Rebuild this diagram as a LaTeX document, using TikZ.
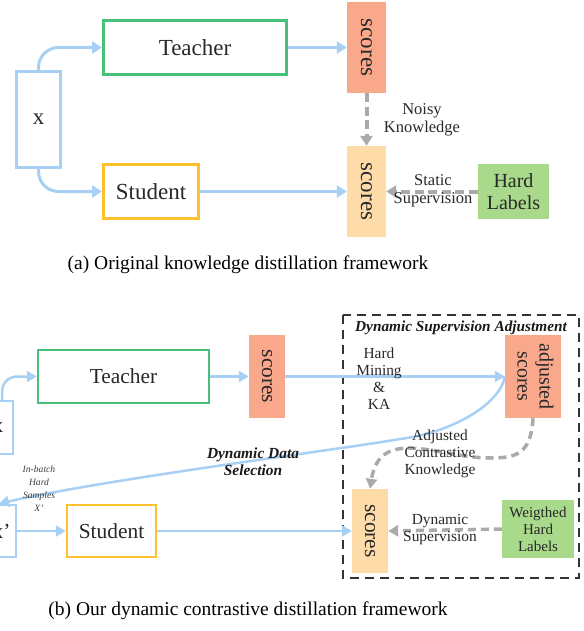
\documentclass[tikz,border=0pt]{standalone}
\usepackage{fontspec}
\setmainfont{Liberation Serif}
\usetikzlibrary{arrows.meta}

\definecolor{lineblue}{RGB}{168,207,244}
\definecolor{teachgreen}{RGB}{72,192,122}
\definecolor{studorange}{RGB}{255,192,46}
\definecolor{salmon}{RGB}{250,168,140}
\definecolor{peach}{RGB}{253,220,170}
\definecolor{labgreen}{RGB}{169,218,140}
\definecolor{dashgray}{RGB}{170,170,170}
\definecolor{txtgray}{RGB}{40,40,40}

\begin{document}
\begin{tikzpicture}[x=1pt,y=1pt]
      \tikzstyle{every node}+=[inner sep=0pt, text=txtgray]
      \tikzstyle{inbox}=[draw=lineblue, line width=3pt]
      \tikzstyle{teacher}=[draw=teachgreen, line width=3pt]
      \tikzstyle{student}=[draw=studorange, line width=3pt]
      \tikzstyle{flow}=[draw=lineblue, line width=3pt, -{Triangle[length=10pt,width=12pt]}]
      \tikzstyle{supflow}=[draw=dashgray, line width=4pt, dash pattern=on 9pt off 4.5pt, -{Triangle[length=10pt,width=12pt]}]
      \tikzstyle{bigtxt}=[font=\fontsize{23}{26}\selectfont]
      \tikzstyle{midtxt}=[font=\fontsize{16.5}{18}\selectfont, align=center]
      \tikzstyle{captxt}=[font=\fontsize{19.5}{22}\selectfont, text=black]
      \useasboundingbox (0,0) rectangle (583,-631);

      % (a) original framework
      \node[inbox, bigtxt, minimum width=44, minimum height=96] (xA) at (38.5,-119.5) {x};
      \node[teacher, bigtxt, minimum width=183, minimum height=54] (teachA) at (195,-47.5) {Teacher};
      \node[student, bigtxt, minimum width=95, minimum height=54] (studA) at (151,-191.5) {Student};
      \node[fill=salmon, bigtxt, minimum width=39, minimum height=91] (tscoreA) at (366.5,-47.5) {\rotatebox{-90}{scores}};
      \node[fill=peach, bigtxt, minimum width=39, minimum height=91] (sscoreA) at (366.5,-191.5) {\rotatebox{-90}{scores}};
      \node[fill=labgreen, align=center, font=\fontsize{20}{22}\selectfont, minimum width=71, minimum height=55] (hardA) at (513.5,-191.5) {Hard\\Labels};
      \node[midtxt] (noisyA) at (422,-120) {Noisy\\Knowledge};

      \draw[flow, rounded corners=20pt] (xA.north) |- (teachA.west);
      \draw[flow, rounded corners=20pt] (xA.south) |- (studA.west);
      \draw[flow] (teachA.east) -- (tscoreA.west);
      \draw[flow] (studA.east) -- (sscoreA.west);
      \draw[supflow] (tscoreA.south) -- (sscoreA.north);
      \draw[supflow] (hardA.west) -- (sscoreA.east);
      \node[midtxt] (staticA) at (433,-191) {Static\\Supervision};

      \node[captxt] (capA) at (248,-265) {(a) Original knowledge distillation framework};

      % (b) dynamic contrastive framework
      \tikzstyle{inbox}=[draw=lineblue, line width=2.5pt]
      \tikzstyle{teacher}=[draw=teachgreen, line width=2.5pt]
      \tikzstyle{student}=[draw=studorange, line width=2.5pt]
      \tikzstyle{flow}=[draw=lineblue, line width=2.5pt, -{Triangle[length=10pt,width=11pt]}]
      \tikzstyle{supflow}=[draw=dashgray, line width=3.5pt, dash pattern=on 8pt off 5pt, -{Triangle[length=10pt,width=11pt]}]
      \tikzstyle{bigtxt}=[font=\fontsize{21.4}{24}\selectfont]
      \tikzstyle{midtxt}=[font=\fontsize{15.4}{17}\selectfont, align=center]

      \draw[draw=black!80, line width=1.5pt, dash pattern=on 9pt off 6pt] (343,-315) rectangle (579,-578);
      \node[font=\fontsize{15.3}{17}\selectfont\bfseries\itshape, text=black!90] (dsaT) at (461,-328) {Dynamic Supervision Adjustment};

      \node[inbox, bigtxt, minimum width=30, minimum height=53] (xB) at (-2,-427.5) {x};
      \node[inbox, bigtxt, minimum width=34, minimum height=52] (xpB) at (-1,-531) {\hspace*{5pt}x'};
      \node[teacher, bigtxt, minimum width=171, minimum height=53] (teachB) at (123.5,-376.5) {Teacher};
      \node[student, bigtxt, minimum width=89, minimum height=52] (studB) at (111.5,-531) {Student};
      \node[fill=salmon, bigtxt, minimum width=36, minimum height=83] (tscoreB) at (267,-376.5) {\rotatebox{-90}{scores}};
      \node[fill=salmon, font=\fontsize{20}{22}\selectfont, minimum width=56, minimum height=83] (adjB) at (533,-376.5) {\rotatebox{-90}{\begin{tabular}{@{}c@{}}adjusted\\scores\end{tabular}}};
      \node[fill=peach, bigtxt, minimum width=36, minimum height=84] (sscoreB) at (370,-531) {\rotatebox{-90}{scores}};
      \node[fill=labgreen, align=center, font=\fontsize{15}{17}\selectfont, minimum width=72, minimum height=58] (wlabB) at (538,-529) {Weigthed\\Hard\\Labels};

      \coordinate (ddsmid) at (400,-439);
      \coordinate (ackmid) at (490,-458);

      \draw[flow, rounded corners=15pt] ([xshift=4pt]xB.north) |- (teachB.west);
      \draw[flow] (teachB.east) -- (tscoreB.west);
      \draw[flow] (tscoreB.east) -- (adjB.west);
      \draw[flow] (adjB.west) .. controls (500,-405) and (450,-433) .. (ddsmid)
                  .. controls (350,-448) and (100,-480) .. (xpB.north);
      \draw[flow] (xpB.east) -- (studB.west);
      \draw[flow] (studB.east) -- (sscoreB.west);
      \draw[supflow] (adjB.south) .. controls (531,-455) and (515,-458) .. (ackmid)
                  .. controls (440,-458) and (380,-425) .. (sscoreB.north);
      \draw[supflow] (wlabB.west) -- (sscoreB.east);

      \node[midtxt] (hmka) at (379,-379) {Hard\\Mining\\\&\\KA};
      \node[midtxt] (ack) at (440,-454) {Adjusted\\Contrastive\\Knowledge};
      \node[midtxt] (dynsup) at (440,-530) {Dynamic\\Supervision};
      \node[font=\fontsize{15.4}{17}\selectfont\bfseries\itshape, align=center, text=black!90] (dds) at (253,-462) {Dynamic Data\\Selection};
      \node[font=\fontsize{9.6}{13}\selectfont\itshape, align=center, text=black!75] (ibhs) at (39,-489) {In-batch\\Hard\\Samples\\X'};

      \node[captxt] (capB) at (248,-611) {(b) Our dynamic contrastive distillation framework};
\end{tikzpicture}
\end{document}
